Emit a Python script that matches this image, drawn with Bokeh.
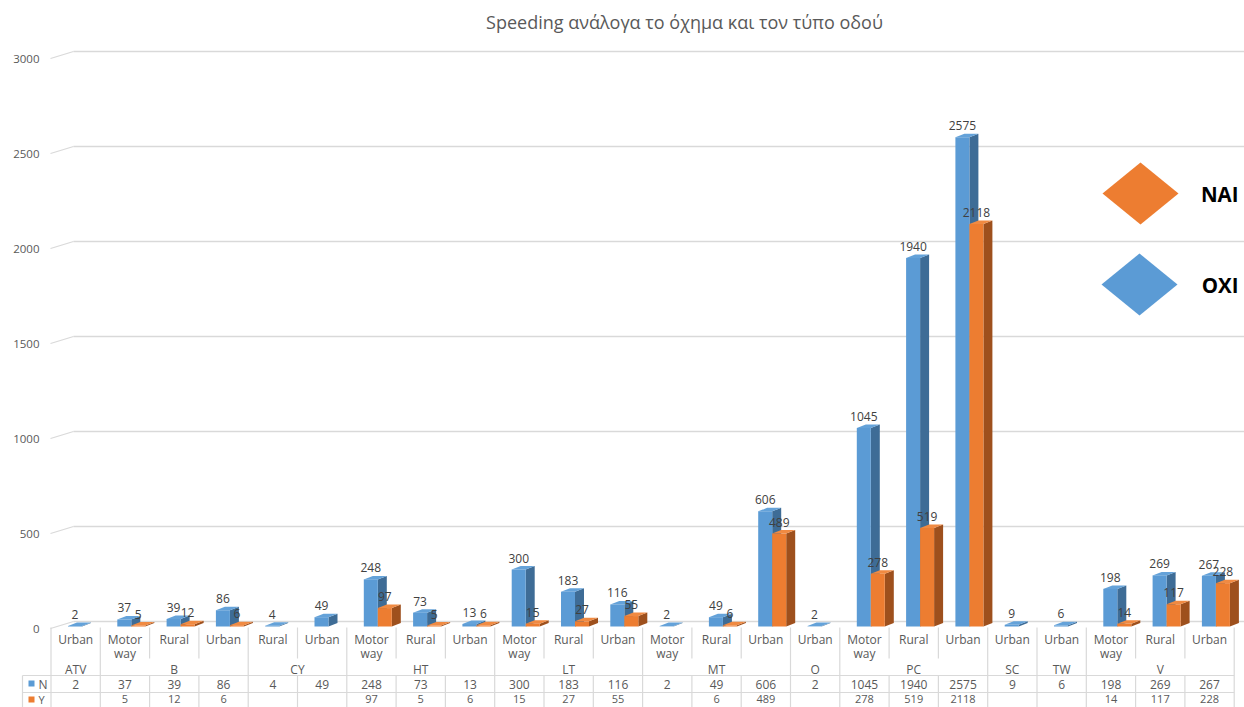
from bokeh.plotting import figure
from bokeh.models import Range1d
from bokeh.core.properties import value
from bokeh.embed import file_html
from bokeh.resources import INLINE

# ---- data ---------------------------------------------------------------
vehicle = ["ATV", "B", "B", "B", "CY", "CY", "HT", "HT", "HT", "LT", "LT", "LT",
           "MT", "MT", "MT", "O", "PC", "PC", "PC", "SC", "TW", "V", "V", "V"]
road = ["Urban", "Motor way", "Rural", "Urban", "Rural", "Urban", "Motor way", "Rural",
        "Urban", "Motor way", "Rural", "Urban", "Motor way", "Rural", "Urban", "Urban",
        "Motor way", "Rural", "Urban", "Urban", "Urban", "Motor way", "Rural", "Urban"]
n_vals = [2, 37, 39, 86, 4, 49, 248, 73, 13, 300, 183, 116, 2, 49, 606, 2,
          1045, 1940, 2575, 9, 6, 198, 269, 267]
y_vals = [None, 5, 12, 6, None, None, 97, 5, 6, 15, 27, 55, None, 6, 489, None,
          278, 519, 2118, None, None, 14, 117, 228]
y_ticks = [0, 500, 1000, 1500, 2000, 2500, 3000]
title = "Speeding ανάλογα το όχημα και τον τύπο οδού"
series_names = ["N", "Y"]
legend_names = ["NAI", "OXI"]

# ---- geometry of the pseudo-3D view --------------------------------------
W, H = 1244, 707
X0, CW = 50.5, 49.3      # left edge of the first category, category width (px)
Y0, K = 626.0, 0.19      # baseline of the front plane (px), px per unit


def ux(px):
    return (px - X0) / CW


def vy(py):
    return (Y0 - py) / K


DX = 9.0 / CW            # bar depth, horizontal
DY = 3.5 / K             # bar depth, vertical
FONT = value("Open Sans")
GRID = "#D9D9D9"
TXT = "#595959"
SMALL = "12px"
BLUE, BLUE_SIDE, BLUE_TOP = "#5B9BD5", "#3E6C96", "#64A2D9"
ORANGE, ORANGE_SIDE, ORANGE_TOP = "#ED7D31", "#9E501D", "#F08A42"

p = figure(width=W, height=H, output_backend="svg", toolbar_location=None,
           x_range=Range1d(ux(0), ux(W)), y_range=Range1d(vy(H), vy(0)),
           x_axis_type=None, y_axis_type=None, min_border=0,
           min_border_left=0, min_border_right=0, min_border_top=0,
           min_border_bottom=0)
p.outline_line_color = None
p.grid.visible = False
p.background_fill_color = "white"

# ---- back-wall gridlines with their slanted side-wall stubs ----------------
back_off = 5.0 / K
front_off = -2.0 / K
p.segment(x0=[ux(73)] * len(y_ticks), y0=[t + back_off for t in y_ticks],
          x1=[ux(W)] * len(y_ticks), y1=[t + back_off for t in y_ticks],
          line_color=GRID, line_width=1.3)
p.segment(x0=[ux(50)] * len(y_ticks), y0=[t + front_off for t in y_ticks],
          x1=[ux(73)] * len(y_ticks), y1=[t + back_off for t in y_ticks],
          line_color=GRID, line_width=1.3)
p.text(x=[ux(39)] * len(y_ticks), y=[t - 2.5 / K for t in y_ticks],
       text=[str(t) for t in y_ticks], text_font=FONT, text_font_size="11.5px",
       text_color=TXT, text_align="right", text_baseline="middle")

# ---- data table grid under the plot --------------------------------------
ncat = len(vehicle)
groups = []
start = 0
for i in range(1, ncat + 1):
    if i == ncat or vehicle[i] != vehicle[start]:
        groups.append((vehicle[start], start, i))
        start = i
group_edges = sorted({g[1] for g in groups} | {g[2] for g in groups})

vx0, vy0, vx1, vy1 = [], [], [], []
for e in range(ncat + 1):
    if e in group_edges:
        vx0.append(e); vy0.append(vy(627)); vx1.append(e); vy1.append(vy(H))
    else:
        vx0 += [e, e]; vy0 += [vy(627), vy(675)]
        vx1 += [e, e]; vy1 += [vy(658), vy(H)]
vx0.append(ux(22)); vy0.append(vy(675)); vx1.append(ux(22)); vy1.append(vy(H))
for row in (675, 692):
    vx0.append(ux(22)); vy0.append(vy(row)); vx1.append(ncat); vy1.append(vy(row))
p.segment(x0=vx0, y0=vy0, x1=vx1, y1=vy1, line_color=GRID, line_width=1.2)

# category labels (road type), wrapped onto two lines where needed
l1x, l1y, l1t = [], [], []
for i, r in enumerate(road):
    for k, part in enumerate(r.split(" ")):
        l1x.append(i + 0.5); l1y.append(vy(639 + 13.5 * k)); l1t.append(part)
p.text(x=l1x, y=l1y, text=l1t, text_font=FONT, text_font_size=SMALL,
       text_color=TXT, text_align="center", text_baseline="middle")

# group labels (vehicle type)
p.text(x=[(g[1] + g[2]) / 2 for g in groups], y=[vy(669)] * len(groups),
       text=[g[0] for g in groups], text_font=FONT, text_font_size=SMALL,
       text_color=TXT, text_align="center", text_baseline="middle")

# table rows with the series values
ROW_N, ROW_Y = 683.5, 698.5
p.text(x=[i + 0.5 for i in range(ncat)], y=[vy(ROW_N)] * ncat,
       text=[str(v) for v in n_vals], text_font=FONT, text_font_size=SMALL,
       text_color=TXT, text_align="center", text_baseline="middle")
yi = [i for i, v in enumerate(y_vals) if v is not None]
p.text(x=[i + 0.5 for i in yi], y=[vy(ROW_Y)] * len(yi),
       text=[str(y_vals[i]) for i in yi], text_font=FONT, text_font_size="11px",
       text_color=TXT, text_align="center", text_baseline="middle")

# row keys
p.quad(left=[ux(28)] * 2, right=[ux(34)] * 2, top=[vy(680), vy(696)],
       bottom=[vy(686), vy(702)], fill_color=[BLUE, ORANGE], line_color=None)
p.text(x=[ux(38)], y=[vy(ROW_N)], text=series_names[:1],
       text_font=FONT, text_font_size=SMALL, text_color=TXT,
       text_align="left", text_baseline="middle")
p.text(x=[ux(38)], y=[vy(ROW_Y)], text=series_names[1:],
       text_font=FONT, text_font_size="11px", text_color=TXT,
       text_align="left", text_baseline="middle")


# ---- pseudo-3D columns ------------------------------------------------------
def draw_series(vals, a, b, front, side, top):
    idx = [i for i, v in enumerate(vals) if v is not None]
    sxs, sys, txs, tys = [], [], [], []
    for i in idx:
        v = vals[i]
        sxs.append([i + b, i + b + DX, i + b + DX, i + b])
        sys.append([0, DY, v + DY, v])
        txs.append([i + a, i + b, i + b + DX, i + a + DX])
        tys.append([v, v, v + DY, v + DY])
    p.patches(xs=sxs, ys=sys, fill_color=side, line_color=None)
    p.patches(xs=txs, ys=tys, fill_color=top, line_color=None)
    p.quad(left=[i + a for i in idx], right=[i + b for i in idx],
           bottom=[0] * len(idx), top=[vals[i] for i in idx],
           fill_color=front, line_color=None)


a_n, b_n = 17 / CW, 31 / CW
a_y, b_y = 31 / CW, 45 / CW
draw_series(n_vals, a_n, b_n, BLUE, BLUE_SIDE, BLUE_TOP)
draw_series(y_vals, a_y, b_y, ORANGE, ORANGE_SIDE, ORANGE_TOP)

# value labels above each column
lab = 11.5 / K
p.text(x=[i + (a_n + b_n) / 2 for i in range(ncat)], y=[v + lab for v in n_vals],
       text=[str(v) for v in n_vals], text_font=FONT, text_font_size=SMALL,
       text_color="#404040", text_align="center", text_baseline="middle")
p.text(x=[i + (a_y + b_y) / 2 for i in yi], y=[y_vals[i] + lab for i in yi],
       text=[str(y_vals[i]) for i in yi], text_font=FONT, text_font_size=SMALL,
       text_color="#404040", text_align="center", text_baseline="middle")

# ---- title and legend -----------------------------------------------------
p.text(x=[ux(684)], y=[vy(21)], text=[title], text_font=FONT,
       text_font_size="18px", text_color=TXT, text_align="center",
       text_baseline="middle")

for (cx, cy), col, name in zip([(1140, 193), (1139, 284)], [ORANGE, BLUE], legend_names):
    p.patch(x=[ux(cx - 38), ux(cx), ux(cx + 38), ux(cx)],
            y=[vy(cy), vy(cy - 31), vy(cy), vy(cy + 31)],
            fill_color=col, line_color=None)
    p.text(x=[ux(1238)], y=[vy(cy)], text=[name], text_font=FONT,
           text_font_size="20.5px", text_font_style="bold", text_color="black",
           text_align="right", text_baseline="middle")

open("out.html", "w").write(file_html(p, INLINE))
